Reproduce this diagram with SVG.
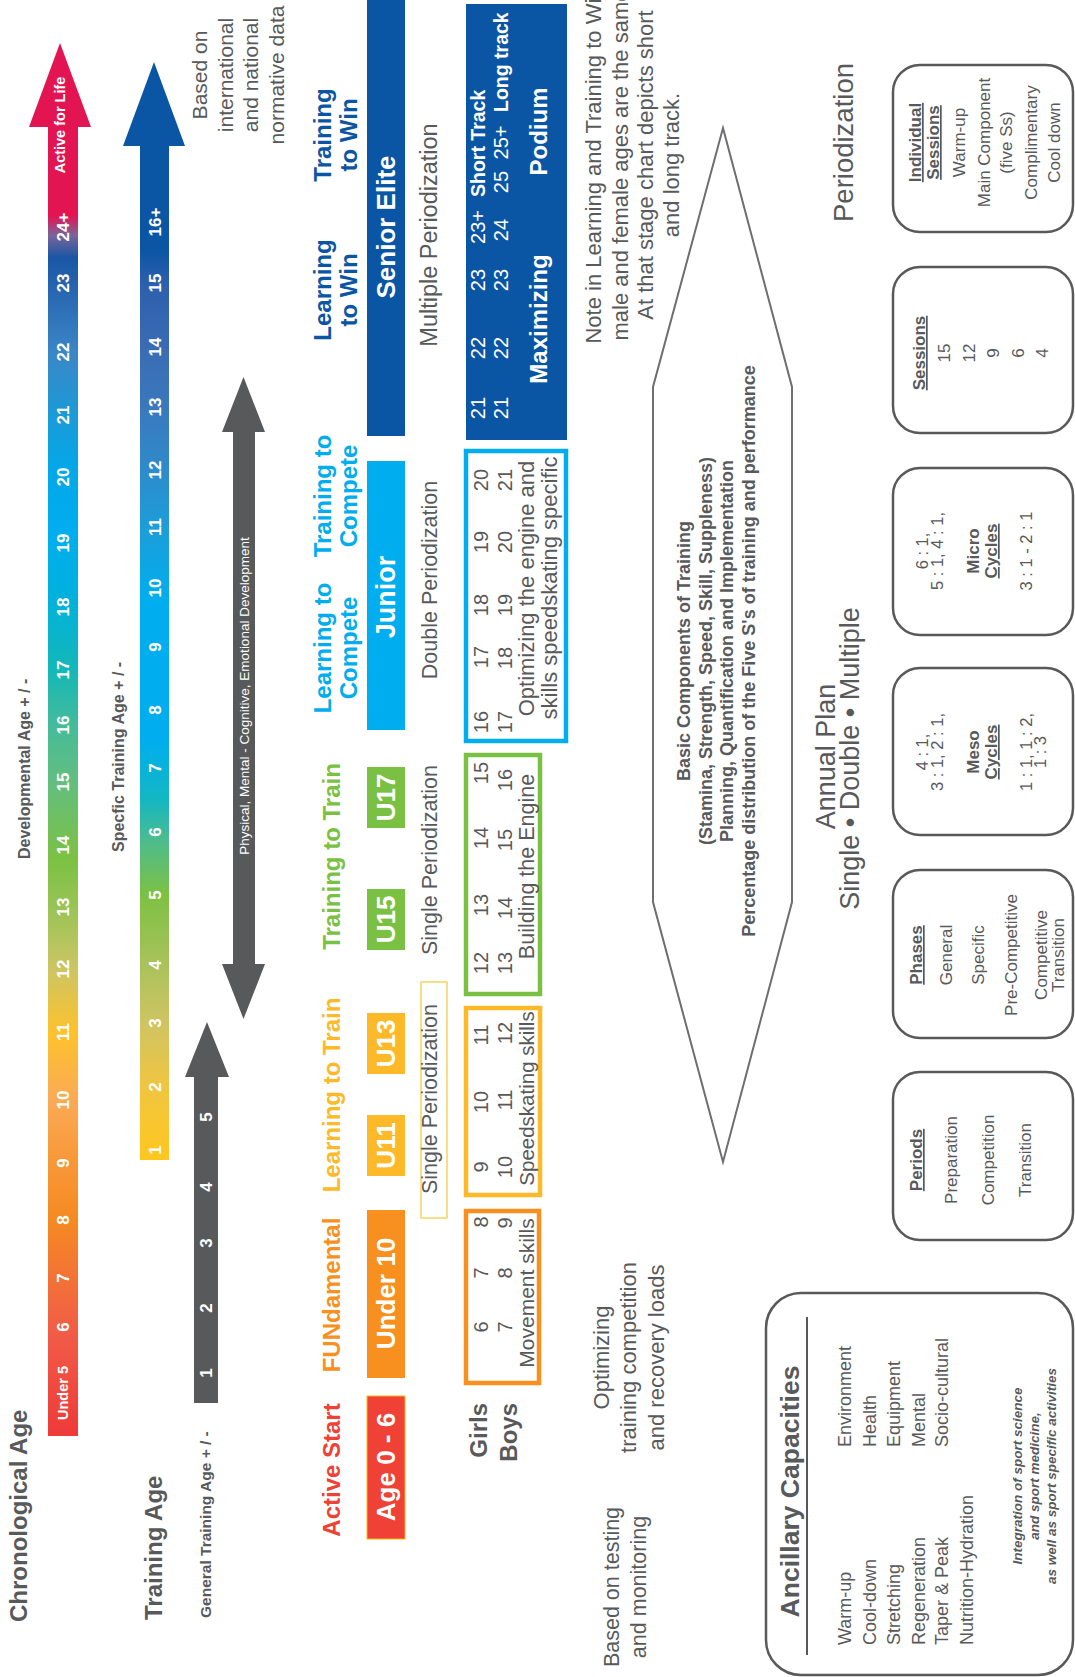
<svg xmlns="http://www.w3.org/2000/svg" width="1075" height="1677" viewBox="0 0 1075 1677">
<defs>
<style>
text{font-family:"Liberation Sans",Arial,Helvetica,sans-serif;fill:#58595B}
.b{font-weight:bold}
.m{text-anchor:middle}
.e{text-anchor:end}
.w{fill:#fff}
.n{font-size:17px;font-weight:bold;fill:#fff;text-anchor:middle}
.bar{font-size:26px;font-weight:bold;fill:#fff;text-anchor:middle}
.st{font-size:24px;font-weight:bold}
.per{font-size:21.5px;text-anchor:middle}
.row{font-size:20px;text-anchor:middle}
.box{fill:none;stroke:#58595B;stroke-width:2.5}
.bx{font-size:17px;text-anchor:middle}
.u{text-decoration:underline}
.agebox{fill:none;stroke-width:4.5}
</style>
<linearGradient id="gChrono" gradientUnits="userSpaceOnUse" x1="241" y1="0" x2="1634" y2="0">
<stop offset="0" stop-color="#EE3A39"/>
<stop offset="0.076" stop-color="#F15D47"/>
<stop offset="0.155" stop-color="#F58A22"/>
<stop offset="0.2" stop-color="#F8993A"/>
<stop offset="0.241" stop-color="#FAAA55"/>
<stop offset="0.29" stop-color="#FDC22D"/>
<stop offset="0.335" stop-color="#CDC563"/>
<stop offset="0.38" stop-color="#98C455"/>
<stop offset="0.413" stop-color="#7DC143"/>
<stop offset="0.471" stop-color="#62BE80"/>
<stop offset="0.51" stop-color="#45BB9A"/>
<stop offset="0.55" stop-color="#14B8B8"/>
<stop offset="0.6" stop-color="#00B1DC"/>
<stop offset="0.65" stop-color="#00ADEE"/>
<stop offset="0.693" stop-color="#03A8E8"/>
<stop offset="0.733" stop-color="#1C9AD8"/>
<stop offset="0.778" stop-color="#3B86C6"/>
<stop offset="0.815" stop-color="#2B6BB4"/>
<stop offset="0.846" stop-color="#1A56A5"/>
<stop offset="0.862" stop-color="#7A6598"/>
<stop offset="0.876" stop-color="#E31452"/>
<stop offset="1" stop-color="#E31452"/>
</linearGradient>
<linearGradient id="gSpec" gradientUnits="userSpaceOnUse" x1="517" y1="0" x2="1615" y2="0">
<stop offset="0" stop-color="#FFC61E"/>
<stop offset="0.066" stop-color="#F0C540"/>
<stop offset="0.125" stop-color="#CFC463"/>
<stop offset="0.178" stop-color="#A9C25B"/>
<stop offset="0.241" stop-color="#7DC143"/>
<stop offset="0.291" stop-color="#4CBC8E"/>
<stop offset="0.328" stop-color="#13B7C2"/>
<stop offset="0.383" stop-color="#00AEEF"/>
<stop offset="0.51" stop-color="#00AEEF"/>
<stop offset="0.576" stop-color="#1D9DD9"/>
<stop offset="0.628" stop-color="#2E8BCB"/>
<stop offset="0.685" stop-color="#3A78BD"/>
<stop offset="0.74" stop-color="#3A6CB4"/>
<stop offset="0.799" stop-color="#2C5FAD"/>
<stop offset="0.829" stop-color="#0B55A5"/>
<stop offset="1" stop-color="#0B55A5"/>
</linearGradient>
</defs>
<rect width="1075" height="1677" fill="#fff"/>
<g transform="matrix(0,-1,1,0,0,1677)">

<g id="connectors">
<g id="chrono-arrow">
<polygon points="241,48 1550,48 1550,29 1634,60 1550,91 1550,78 241,78" fill="url(#gChrono)"/>
<text class="n" x="284" y="68" style="font-size:14.5px">Under 5</text>
<text class="n" x="350" y="69">6</text>
<text class="n" x="399" y="69">7</text>
<text class="n" x="457" y="69">8</text>
<text class="n" x="514" y="69">9</text>
<text class="n" x="577" y="69">10</text>
<text class="n" x="645" y="69">11</text>
<text class="n" x="708" y="69">12</text>
<text class="n" x="770" y="69">13</text>
<text class="n" x="832" y="69">14</text>
<text class="n" x="895" y="69">15</text>
<text class="n" x="952" y="69">16</text>
<text class="n" x="1007" y="69">17</text>
<text class="n" x="1070" y="69">18</text>
<text class="n" x="1134" y="69">19</text>
<text class="n" x="1200" y="69">20</text>
<text class="n" x="1262" y="69">21</text>
<text class="n" x="1325" y="69">22</text>
<text class="n" x="1394" y="69">23</text>
<text class="n" x="1450" y="69">24+</text>
<text class="n" x="1552" y="65" style="font-size:14.5px">Active for Life</text>
</g>
<g id="specific-arrow">
<polygon points="517,140 1531,140 1531,123 1615,154 1531,185 1531,169 517,169" fill="url(#gSpec)"/>
<text class="n" x="527" y="161">1</text>
<text class="n" x="590" y="161">2</text>
<text class="n" x="654" y="161">3</text>
<text class="n" x="712" y="161">4</text>
<text class="n" x="782" y="161">5</text>
<text class="n" x="845" y="161">6</text>
<text class="n" x="909" y="161">7</text>
<text class="n" x="967" y="161">8</text>
<text class="n" x="1030" y="161">9</text>
<text class="n" x="1089" y="161">10</text>
<text class="n" x="1150" y="161">11</text>
<text class="n" x="1207" y="161">12</text>
<text class="n" x="1270" y="161">13</text>
<text class="n" x="1330" y="161">14</text>
<text class="n" x="1394" y="161">15</text>
<text class="n" x="1455" y="161">16+</text>
</g>
<g id="general-arrow">
<polygon points="274,194 600,194 600,185 655,207 600,229 600,218 274,218" fill="#58595B"/>
<text class="n" x="304" y="212">1</text>
<text class="n" x="369" y="212">2</text>
<text class="n" x="434" y="212">3</text>
<text class="n" x="490" y="212">4</text>
<text class="n" x="560" y="212">5</text>
</g>
<g id="development-arrow">
<polygon points="658,243.5 713,222 713,233 1245,233 1245,222 1300,243.5 1245,265 1245,255 713,255 713,265" fill="#58595B"/>
<text class="m w" x="981" y="248.5" style="font-size:13.5px">Physical, Mental - Cognitive, Emotional Development</text>
</g>
</g>

<g id="axis-labels">
<text class="b" x="55" y="27" style="font-size:24px">Chronological Age</text>
<text class="b" x="818" y="30" style="font-size:16px">Developmental Age + / -</text>
<text class="b" x="57" y="162" style="font-size:24px">Training Age</text>
<text class="b" x="825" y="124" style="font-size:16px">Specfic Training Age + / -</text>
<text class="b" x="59" y="211" style="font-size:15.5px">General Training Age + / -</text>
<text class="m" style="font-size:21px"><tspan x="1602" y="207">Based on</tspan><tspan x="1602" y="232.5">international</tspan><tspan x="1602" y="258">and national</tspan><tspan x="1602" y="283.5">normative data</tspan></text>
</g>

<g id="stage-titles">
<text class="st m" x="207" y="340" fill="#EF4136" style="fill:#EF4136">Active Start</text>
<text class="st m" x="382" y="340" style="fill:#F7901E">FUNdamental</text>
<text class="st m" x="582" y="340" style="fill:#FDB927">Learning to Train</text>
<text class="st m" x="820.5" y="340" style="fill:#7AC143">Training to Train</text>
<text class="st m" style="fill:#00AEEF"><tspan x="1029" y="331">Learning to</tspan><tspan x="1029" y="357">Compete</tspan></text>
<text class="st m" style="fill:#00AEEF"><tspan x="1181" y="331">Training to</tspan><tspan x="1181" y="357">Compete</tspan></text>
<text class="st m" style="fill:#0B55A5"><tspan x="1387" y="331">Learning</tspan><tspan x="1387" y="357">to Win</tspan></text>
<text class="st m" style="fill:#0B55A5"><tspan x="1542" y="331">Training</tspan><tspan x="1542" y="357">to Win</tspan></text>
</g>

<g id="stage-bars">
<g id="bar-age0-6"><rect x="138" y="367" width="143" height="38" fill="#EF4136" stroke="#FDB913" stroke-width="1"/><text class="bar" x="210" y="395">Age 0 - 6</text></g>
<g id="bar-under10"><rect x="299" y="367" width="168" height="38" fill="#F7901E"/><text class="bar" x="383.5" y="395">Under 10</text></g>
<g id="bar-u11"><rect x="501" y="367" width="61" height="38" fill="#FDB927"/><text class="bar" x="531.5" y="395">U11</text></g>
<g id="bar-u13"><rect x="603" y="367" width="61" height="38" fill="#FDB927"/><text class="bar" x="633.5" y="395">U13</text></g>
<g id="bar-u15"><rect x="727" y="367" width="61" height="38" fill="#7AC143"/><text class="bar" x="757.5" y="395">U15</text></g>
<g id="bar-u17"><rect x="849" y="367" width="61" height="38" fill="#7AC143"/><text class="bar" x="879.5" y="395">U17</text></g>
<g id="bar-junior"><rect x="947" y="367" width="269" height="38" fill="#00AEEF"/><text class="bar" x="1080" y="395" style="font-size:27px">Junior</text></g>
<g id="bar-senior"><rect x="1241" y="367" width="436" height="38" fill="#0B55A5"/><text class="bar" x="1450" y="395">Senior Elite</text></g>
</g>

<g id="periodization-labels">
<rect x="459" y="421" width="236" height="26" fill="none" stroke="#F6D55C" stroke-width="1.5"/>
<text class="per" x="578" y="437">Single Periodization</text>
<text class="per" x="817" y="437">Single Periodization</text>
<text class="per" x="1097" y="437">Double Periodization</text>
<text class="per" x="1442" y="437" style="font-size:23.5px">Multiple Periodization</text>
</g>

<g id="girls-boys">
<text class="b e" x="274" y="487" style="font-size:24px">Girls</text>
<text class="b e" x="274" y="517" style="font-size:24px">Boys</text>
</g>

<g id="box-fundamental">
<rect class="agebox" x="294" y="466" width="172" height="73" stroke="#F7901E"/>
<text class="row" x="350" y="488">6</text><text class="row" x="404" y="488">7</text><text class="row" x="455" y="488">8</text>
<text class="row" x="350" y="512">7</text><text class="row" x="404" y="512">8</text><text class="row" x="454" y="512">9</text>
<text class="m" x="384" y="534" style="font-size:21px">Movement skills</text>
</g>
<g id="box-learning-train">
<rect class="agebox" x="482" y="466" width="187" height="74" stroke="#FDB927"/>
<text class="row" x="510" y="488">9</text><text class="row" x="575" y="488">10</text><text class="row" x="642" y="488">11</text>
<text class="row" x="510" y="512">10</text><text class="row" x="577" y="512">11</text><text class="row" x="644" y="512">12</text>
<text class="m" x="578.5" y="534" style="font-size:20.5px">Speedskating skills</text>
</g>
<g id="box-training-train">
<rect class="agebox" x="683" y="466" width="239" height="74" stroke="#7AC143"/>
<text class="row" x="714" y="488">12</text><text class="row" x="772" y="488">13</text><text class="row" x="839" y="488">14</text><text class="row" x="904" y="488">15</text>
<text class="row" x="714" y="512">13</text><text class="row" x="769" y="512">14</text><text class="row" x="837" y="512">15</text><text class="row" x="897" y="512">16</text>
<text class="m" x="810.5" y="534" style="font-size:21.5px">Building the Engine</text>
</g>
<g id="box-compete">
<rect class="agebox" x="936" y="466" width="290" height="100" stroke="#00AEEF"/>
<text class="row" x="955" y="488">16</text><text class="row" x="1020" y="488">17</text><text class="row" x="1072" y="488">18</text><text class="row" x="1135" y="488">19</text><text class="row" x="1197" y="488">20</text>
<text class="row" x="955" y="512">17</text><text class="row" x="1019" y="512">18</text><text class="row" x="1072" y="512">19</text><text class="row" x="1135" y="512">20</text><text class="row" x="1197" y="512">21</text>
<text class="m" style="font-size:22px"><tspan x="1088.5" y="534">Optimizing the engine and</tspan><tspan x="1089" y="557">skills speedskating specific</tspan></text>
</g>
<g id="box-win">
<rect x="1237" y="466" width="436" height="101" fill="#0B55A5"/>
<text class="row w" x="1269" y="485">21</text><text class="row w" x="1329" y="485">22</text><text class="row w" x="1397" y="485">23</text><text class="row w" x="1450" y="485">23+</text>
<text class="b w" x="1480" y="485" style="font-size:19.5px">Short Track</text>
<text class="row w" x="1269" y="508">21</text><text class="row w" x="1329" y="508">22</text><text class="row w" x="1397" y="508">23</text><text class="row w" x="1447" y="508">24</text><text class="row w" x="1495" y="508">25</text><text class="row w" x="1534.5" y="508">25+</text>
<text class="b w" x="1565" y="508" style="font-size:19.5px">Long track</text>
<text class="b m w" x="1358" y="547" style="font-size:24px">Maximizing</text>
<text class="b m w" x="1545.5" y="547" style="font-size:24px">Podium</text>
</g>

<g id="note">
<text class="m" style="font-size:22px"><tspan x="1512" y="601">Note in Learning and Training to Win</tspan><tspan x="1512" y="628">male and female ages are the same</tspan><tspan x="1512" y="653">At that stage chart depicts short</tspan><tspan x="1512" y="679">and long track.</tspan></text>
</g>

<g id="testing-notes">
<text class="m" style="font-size:21.5px"><tspan x="90" y="618.5">Based on testing</tspan><tspan x="90" y="645.5">and monitoring</tspan></text>
<text class="m" style="font-size:22px"><tspan x="319.5" y="609">Optimizing</tspan><tspan x="319.5" y="636">training competition</tspan><tspan x="319.5" y="664">and recovery loads</tspan></text>
</g>

<g id="components-hexagon">
<polygon points="1549,723 1290,792 775,792 515,723 775,653 1290,653" fill="none" stroke="#6D6E71" stroke-width="2"/>
<text class="b m" style="font-size:18px"><tspan x="1026" y="690">Basic Components of Training</tspan><tspan x="1026" y="711.5">(Stamina, Strength, Speed, Skill, Suppleness)</tspan><tspan x="1026" y="733">Planning, Quantification and Implementation</tspan><tspan x="1026" y="754.5">Percentage distribution of the Five S's of training and performance</tspan></text>
</g>

<g id="annual-plan">
<text class="m" style="font-size:27px"><tspan x="920.5" y="835">Annual Plan</tspan><tspan x="918.5" y="859">Single • Double • Multiple</tspan></text>
<text class="m" x="1534.5" y="853" style="font-size:27.5px">Periodization</text>
</g>

<g id="box-periods">
<rect class="box" x="437" y="893" width="168" height="180" rx="27"/>
<text class="bx b u" x="517" y="922">Periods</text>
<text class="bx" x="517" y="957">Preparation</text>
<text class="bx" x="517" y="994">Competition</text>
<text class="bx" x="517" y="1031">Transition</text>
</g>
<g id="box-phases">
<rect class="box" x="639" y="893" width="168" height="180" rx="27"/>
<text class="bx b u" x="722" y="922">Phases</text>
<text class="bx" x="722" y="952">General</text>
<text class="bx" x="722" y="984">Specific</text>
<text class="bx" x="722" y="1017">Pre-Competitive</text>
<text class="bx" x="722" y="1047">Competitive</text>
<text class="bx" x="722" y="1064">Transition</text>
</g>
<g id="box-meso">
<rect class="box" x="842" y="893" width="167" height="180" rx="27"/>
<text class="bx" x="925" y="928" style="font-size:16.5px">4 : 1,</text>
<text class="bx" x="925" y="943" style="font-size:16.5px">3 : 1, 2 : 1,</text>
<text class="bx b" x="925" y="979">Meso</text>
<text class="bx b u" x="925" y="997">Cycles</text>
<text class="bx" x="925" y="1032" style="font-size:16.5px">1 : 1, 1 : 2,</text>
<text class="bx" x="925" y="1046" style="font-size:16.5px">1 : 3</text>
</g>
<g id="box-micro">
<rect class="box" x="1042" y="893" width="167" height="180" rx="27"/>
<text class="bx" x="1126" y="928" style="font-size:16.5px">6 : 1,</text>
<text class="bx" x="1126" y="943" style="font-size:16.5px">5 : 1, 4 : 1,</text>
<text class="bx b" x="1126" y="979">Micro</text>
<text class="bx b u" x="1126" y="997">Cycles</text>
<text class="bx" x="1126" y="1032" style="font-size:16.5px">3 : 1 - 2 : 1</text>
</g>
<g id="box-sessions">
<rect class="box" x="1244" y="893" width="166" height="180" rx="27"/>
<text class="bx b u" x="1324" y="925">Sessions</text>
<text class="bx" x="1324" y="950">15</text>
<text class="bx" x="1324" y="975">12</text>
<text class="bx" x="1324" y="999">9</text>
<text class="bx" x="1324" y="1024">6</text>
<text class="bx" x="1324" y="1048">4</text>
</g>
<g id="box-individual">
<rect class="box" x="1445" y="893" width="167" height="180" rx="27"/>
<text class="bx b u" x="1534.5" y="921">Individual</text>
<text class="bx b u" x="1534.5" y="939">Sessions</text>
<text class="bx" x="1534.5" y="965">Warm-up</text>
<text class="bx" x="1534.5" y="989.5">Main Component</text>
<text class="bx" x="1534.5" y="1012">(five Ss)</text>
<text class="bx" x="1534.5" y="1037">Complimentary</text>
<text class="bx" x="1534.5" y="1060">Cool down</text>
</g>

<g id="box-ancillary">
<rect class="box" x="2" y="766" width="382" height="307" rx="35"/>
<text class="b m" x="185.5" y="799" style="font-size:26.5px">Ancillary Capacities</text>
<line x1="22" y1="807" x2="360" y2="807" stroke="#231F20" stroke-width="1.5"/>
<text style="font-size:18px"><tspan x="32" y="851">Warm-up</tspan><tspan x="32" y="876">Cool-down</tspan><tspan x="32" y="900">Stretching</tspan><tspan x="32" y="925">Regeneration</tspan><tspan x="32" y="948">Taper &amp; Peak</tspan><tspan x="32" y="973">Nutrition-Hydration</tspan></text>
<text style="font-size:18px"><tspan x="230" y="851">Environment</tspan><tspan x="230" y="876">Health</tspan><tspan x="230" y="900">Equipment</tspan><tspan x="230" y="925">Mental</tspan><tspan x="230" y="948">Socio-cultural</tspan></text>
<text class="b m" style="font-size:13.5px;font-style:italic"><tspan x="201" y="1022">Integration of sport science</tspan><tspan x="201" y="1039">and sport medicine,</tspan><tspan x="201" y="1056">as well as sport specific activities</tspan></text>
</g>

</g>
</svg>
